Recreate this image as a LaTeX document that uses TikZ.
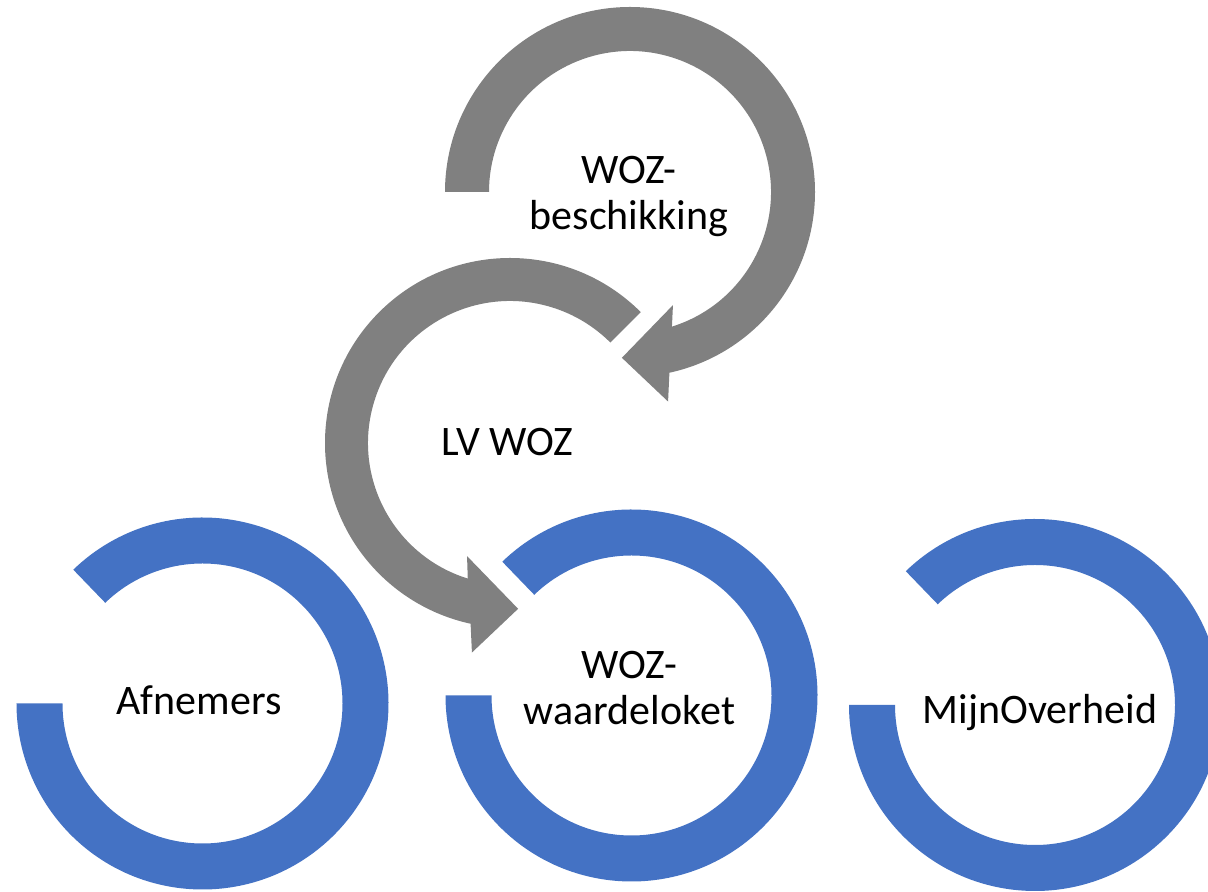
\documentclass[tikz,border=0pt]{standalone}
\usepackage{fontspec}
\setmainfont{Carlito}
\definecolor{arrowgray}{HTML}{808080}
\definecolor{ringblue}{HTML}{4472C4}
\begin{document}
\begin{tikzpicture}[x=1bp,y=1bp,
  txt/.style={font=\fontsize{42bp}{46bp}\selectfont, text=black, inner sep=0pt, align=center},
  grayshape/.style={fill=arrowgray, draw=none},
  blueshape/.style={fill=ringblue, draw=none}]
\useasboundingbox (0,0) rectangle (1208,892);
\clip (0,0) rectangle (1208,892);
\fill[white] (0,0) rectangle (1208,892);
% centres
\coordinate (cTop) at (630,700);
\coordinate (cLV) at (510,449);
\coordinate (cAfn) at (202.5,188.5);
\coordinate (cWW) at (631.5,196.5);
\coordinate (cMO) at (1035,187);
% top grey circular arrow
\begin{scope}[shift={(cTop)}]
\path[grayshape] (180:185bp) arc[start angle=180, end angle=-77.7, radius=185bp]
  -- (-79.7:213bp) -- (-92.8:166bp) -- (-69.2:121bp) -- (-72.7:141bp)
  arc[start angle=-72.7, end angle=180, radius=141bp] -- cycle;
\end{scope}
% LV WOZ grey circular arrow
\begin{scope}[shift={(cLV)}]
\path[grayshape] (45:185bp) arc[start angle=45, end angle=257.7, radius=185bp]
  -- (259.7:213bp) -- (272.8:166bp) -- (249.2:121bp) -- (252.7:142bp)
  arc[start angle=252.7, end angle=45, radius=142bp] -- cycle;
\end{scope}
% blue rings
\foreach \c in {cAfn,cWW,cMO}{
\begin{scope}[shift={(\c)}]
\path[blueshape] (134:186bp) arc[start angle=134, end angle=-180, radius=186bp]
  -- (180:140bp) arc[start angle=-180, end angle=134, radius=140bp] -- cycle;
\end{scope}
}
% texts
\node[txt, anchor=north] (tWB) at (629,736) {WOZ-\\beschikking};
\node[txt, anchor=base] (tLV) at (507.5,436) {LV WOZ};
\node[txt, anchor=base] (tAfn) at (199,177) {Afnemers};
\node[txt, anchor=north] (tWW) at (629.5,241) {WOZ-\\waardeloket};
\node[txt, anchor=base] (tMO) at (1040,168) {MijnOverheid};
\end{tikzpicture}
\end{document}
